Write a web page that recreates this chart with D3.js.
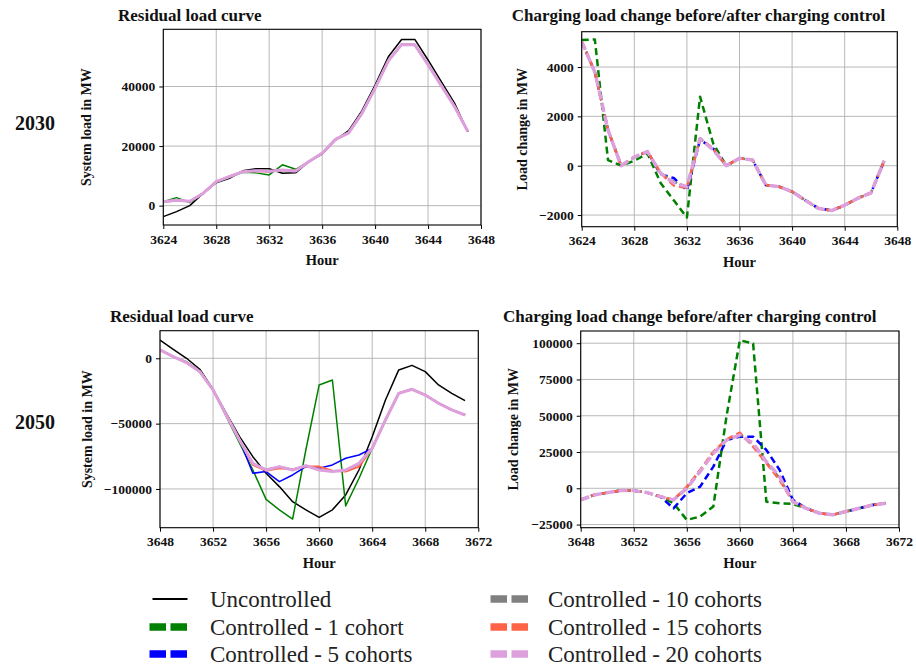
<!DOCTYPE html>
<html>
<head>
<meta charset="utf-8">
<script src="https://cdn.jsdelivr.net/npm/d3@7"></script>
<style>
  body { margin: 0; background: #fff; }
  svg text { font-family: "Liberation Serif", "Times New Roman", serif; }
</style>
</head>
<body>
<div id="container"></div>
<script>
/* DATA */
const hours2030 = [3624, 3625, 3626, 3627, 3628, 3629, 3630, 3631, 3632, 3633, 3634, 3635,
  3636, 3637, 3638, 3639, 3640, 3641, 3642, 3643, 3644, 3645, 3646, 3647];
const hours2050 = [3648, 3649, 3650, 3651, 3652, 3653, 3654, 3655, 3656, 3657, 3658, 3659,
  3660, 3661, 3662, 3663, 3664, 3665, 3666, 3667, 3668, 3669, 3670, 3671];

const xTicks2030 = [3624, 3628, 3632, 3636, 3640, 3644, 3648];
const xTicks2050 = [3648, 3652, 3656, 3660, 3664, 3668, 3672];
const yTicksRes2030 = [0, 20000, 40000];
const yTicksChg2030 = [-2000, 0, 2000, 4000];
const yTicksRes2050 = [-100000, -50000, 0];
const yTicksChg2050 = [-25000, 0, 25000, 50000, 75000, 100000];

const seriesNames = ["Uncontrolled", "Controlled - 1 cohort", "Controlled - 5 cohorts",
  "Controlled - 10 cohorts", "Controlled - 15 cohorts", "Controlled - 20 cohorts"];

// 2030 residual load (MW)
const resUnc2030 = [-3700, -2000, 0, 4100, 7700, 9200, 11700, 12400, 12400, 10900, 11000, 14800,
  17300, 22000, 25200, 31800, 40500, 50000, 55800, 55800, 48900, 41600, 34400, 24800];
const resC1_2030 = [1300, 2700, 1000, 4100, 7800, 9500, 11200, 11000, 10300, 13700, 12200, 14800,
  17600, 22200, 24400, 30900, 39400, 48600, 54100, 54000, 47300, 40300, 33300, 24900];
const resC5_2030 = [1330, 1800, 1450, 4100, 8050, 9770, 11350, 11900, 11400, 11950, 11700, 14800,
  17600, 22200, 24400, 30900, 39400, 48600, 54100, 54000, 47300, 40300, 33300, 24900];
const resC10_2030 = [1330, 1800, 1450, 4100, 8050, 9770, 11400, 11750, 11500, 12000, 11650, 14800,
  17600, 22200, 24400, 30900, 39400, 48600, 54100, 54000, 47300, 40300, 33300, 24900];
const resC15_2030 = [1330, 1800, 1450, 4100, 8050, 9770, 11400, 11600, 11500, 12000, 11700, 14800,
  17600, 22200, 24400, 30900, 39400, 48600, 54100, 54000, 47300, 40300, 33300, 24900];
const resC20_2030 = [1330, 1800, 1450, 4100, 8050, 9770, 11400, 11700, 11550, 12000, 11650, 14800,
  17600, 22230, 24420, 30950, 39450, 48600, 54070, 53980, 47300, 40280, 33300, 24990];

// 2030 charging load change (MW)
const chgC1_2030 = [5095, 5120, 230, 0, 200, 500, -700, -1400, -2100, 2800, 900, 0,
  300, 230, -780, -850, -1050, -1400, -1730, -1820, -1600, -1320, -1100, 190];
const chgC5_2030 = [5030, 3800, 1450, 0, 350, 570, -350, -500, -1000, 1050, 700, 0,
  300, 230, -780, -850, -1050, -1400, -1730, -1820, -1600, -1320, -1100, 190];
const chgC10_2030 = [5030, 3800, 1450, 0, 350, 570, -300, -650, -900, 1100, 650, 0,
  300, 230, -780, -850, -1050, -1400, -1730, -1820, -1600, -1320, -1100, 190];
const chgC15_2030 = [5030, 3800, 1450, 0, 350, 570, -300, -800, -900, 1100, 700, 0,
  300, 230, -780, -850, -1050, -1400, -1730, -1820, -1600, -1320, -1100, 190];
const chgC20_2030 = [5030, 3800, 1450, 0, 350, 570, -300, -700, -850, 1100, 650, 0,
  300, 230, -780, -850, -1050, -1400, -1730, -1820, -1600, -1320, -1100, 190];

// 2050 residual load (MW)
const resUnc2050 = [14000, 6900, 0, -8400, -23700, -42100, -60000, -75300, -88000, -98200, -109700, -116000,
  -121700, -116000, -104600, -85500, -60000, -31900, -8900, -5400, -10200, -20400, -26800, -32400];
const resC1_2050 = [6400, 1300, -2600, -9700, -23700, -44600, -65000, -85500, -108000, -116000, -123000, -70000,
  -20400, -16600, -113000, -92000, -68900, -47200, -26800, -23700, -28100, -34400, -39500, -43400];
const resC5_2050 = [6400, 1300, -3300, -10200, -24200, -43400, -62500, -88000, -86700, -94400, -89300, -82900,
  -84200, -81600, -76500, -74000, -68900, -47200, -26800, -23700, -28100, -34400, -39500, -43400];
const resC10_2050 = [6400, 1300, -3300, -10200, -24200, -43400, -62500, -81000, -85000, -83500, -85000, -82500,
  -85000, -86500, -86000, -81000, -68900, -47200, -26800, -23700, -28100, -34400, -39500, -43400];
const resC15_2050 = [6400, 1300, -3300, -10200, -24200, -43400, -62500, -81600, -86000, -84200, -85000, -82900,
  -82900, -86000, -86700, -82900, -68900, -47200, -26800, -23700, -28100, -34400, -39500, -43400];
const resC20_2050 = [6400, 1300, -3300, -10200, -24200, -43400, -62500, -80400, -85500, -82900, -85500, -82100,
  -85500, -86700, -85500, -80400, -68900, -47200, -26800, -23700, -28100, -34400, -39500, -43400];

// 2050 charging load change (MW)
const chgC1_2050 = [-8000, -4600, -3000, -1600, -1600, -3000, -5700, -10300, -21800, -19500, -12600, 50000,
  102000, 99800, -9200, -10300, -10800, -13800, -17200, -18300, -16000, -13800, -11500, -10300];
const chgC5_2050 = [-8000, -4600, -3000, -1600, -1600, -3000, -5700, -13800, -3400, 1100, 14900, 33300,
  35600, 35600, 26400, 12600, -8000, -13800, -17200, -18300, -16000, -13800, -11500, -10300];
const chgC10_2050 = [-8000, -4600, -3000, -1600, -1600, -3000, -5700, -8000, 500, 12000, 24500, 33500,
  37500, 30000, 17800, 7000, -9200, -13800, -17200, -18300, -16000, -13800, -11500, -10300];
const chgC15_2050 = [-8000, -4600, -3000, -1600, -1600, -3000, -5700, -8000, 1100, 12600, 25200, 33700,
  38300, 28700, 17200, 5700, -9200, -13800, -17200, -18300, -16000, -13800, -11500, -10300];
const chgC20_2050 = [-8000, -4600, -3000, -1600, -1600, -3000, -5700, -8000, 0, 11500, 24100, 33300,
  36700, 31000, 18300, 8000, -9200, -13800, -17200, -18300, -16000, -13800, -11500, -10300];

/* STYLES */
const colors = ["black", "green", "blue", "grey", "tomato", "plum"];
const solidWidths = [1.5, 1.5, 1.5, 2, 2, 3];
const dashWidths = [1.5, 2.5, 2.5, 2.5, 2.5, 3.5];
const dashPatterns = [null, "7,4", "7,4", "7,4", "7,4", "9,4"];

const width = 916, height = 667;

const svg = d3.select("#container")
  .append("svg")
  .attr("width", width)
  .attr("height", height)
  .style("background-color", "white");

/* PANELS */
const panels = [
  { title: "Residual load curve", ylabel: "System load in MW", hours: hours2030,
    series: [resUnc2030, resC1_2030, resC5_2030, resC10_2030, resC15_2030, resC20_2030], dashed: false,
    xTicks: xTicks2030, yTicks: yTicksRes2030, yDomain: [-6500, 59200],
    l: 163.3, r: 481, t: 29.3, b: 225, titleX: 118, titleY: 21, ylabX: 86 },
  { title: "Charging load change before/after charging control", ylabel: "Load change in MW", hours: hours2030,
    series: [null, chgC1_2030, chgC5_2030, chgC10_2030, chgC15_2030, chgC20_2030], dashed: true,
    xTicks: xTicks2030, yTicks: yTicksChg2030, yDomain: [-2473, 5433],
    l: 581.7, r: 897.3, t: 31.7, b: 226.7, titleX: 511.7, titleY: 21, ylabX: 521.7 },
  { title: "Residual load curve", ylabel: "System load in MW", hours: hours2050,
    series: [resUnc2050, resC1_2050, resC5_2050, resC10_2050, resC15_2050, resC20_2050], dashed: false,
    xTicks: xTicks2050, yTicks: yTicksRes2050, yDomain: [-129650, 21120],
    l: 160, r: 478.3, t: 330.7, b: 527.7, titleX: 110, titleY: 321.7, ylabX: 87.3 },
  { title: "Charging load change before/after charging control", ylabel: "Load change in MW", hours: hours2050,
    series: [null, chgC1_2050, chgC5_2050, chgC10_2050, chgC15_2050, chgC20_2050], dashed: true,
    xTicks: xTicks2050, yTicks: yTicksChg2050, yDomain: [-27160, 108400],
    l: 580.7, r: 899, t: 331, b: 527.7, titleX: 503, titleY: 321.7, ylabX: 512.7 }
];

panels.forEach((p, i) => {
  const xScale = d3.scaleLinear()
    .domain(d3.extent(p.xTicks))
    .range([p.l, p.r]);

  const yScale = d3.scaleLinear()
    .domain(p.yDomain)
    .range([p.b, p.t]);

  const g = svg.append("g").attr("class", "panel");

  // grid
  g.append("g")
    .selectAll("line.vgrid")
    .data(p.xTicks)
    .join("line")
    .attr("x1", d => xScale(d)).attr("x2", d => xScale(d))
    .attr("y1", p.t).attr("y2", p.b)
    .attr("stroke", "#b0b0b0").attr("stroke-width", 0.9);

  g.append("g")
    .selectAll("line.hgrid")
    .data(p.yTicks)
    .join("line")
    .attr("x1", p.l).attr("x2", p.r)
    .attr("y1", d => yScale(d)).attr("y2", d => yScale(d))
    .attr("stroke", "#b0b0b0").attr("stroke-width", 0.9);

  // lines
  g.append("clipPath").attr("id", "clip" + i)
    .append("rect")
    .attr("x", p.l).attr("y", p.t)
    .attr("width", p.r - p.l).attr("height", p.b - p.t);

  const line = d3.line()
    .x((d, j) => xScale(p.hours[j]))
    .y(d => yScale(d));

  p.series.forEach((vals, k) => {
    if (!vals) return;
    g.append("path")
      .datum(vals)
      .attr("clip-path", `url(#clip${i})`)
      .attr("d", line)
      .attr("fill", "none")
      .attr("stroke", colors[k])
      .attr("stroke-width", p.dashed ? dashWidths[k] : solidWidths[k])
      .attr("stroke-dasharray", p.dashed ? dashPatterns[k] : null)
      .attr("stroke-linejoin", "round");
  });

  // frame
  g.append("rect")
    .attr("x", p.l).attr("y", p.t)
    .attr("width", p.r - p.l).attr("height", p.b - p.t)
    .attr("fill", "none").attr("stroke", "black").attr("stroke-width", 1.1);

  // axes
  const xAxis = g.append("g")
    .attr("class", "x-axis")
    .attr("transform", `translate(0,${p.b})`)
    .call(d3.axisBottom(xScale).tickValues(p.xTicks).tickFormat(d3.format("d"))
      .tickSize(4).tickPadding(5).tickSizeOuter(0));

  const yAxis = g.append("g")
    .attr("class", "y-axis")
    .attr("transform", `translate(${p.l},0)`)
    .call(d3.axisLeft(yScale).tickValues(p.yTicks).tickFormat(d3.format("d"))
      .tickSize(4).tickPadding(4).tickSizeOuter(0));

  [xAxis, yAxis].forEach(a => {
    a.select(".domain").remove();
    a.selectAll("text")
      .style("font-family", "'Liberation Serif', serif")
      .style("font-size", "13.5px")
      .style("font-weight", "bold")
      .attr("fill", "#111");
  });

  // title
  g.append("text")
    .attr("x", p.titleX).attr("y", p.titleY)
    .style("font-size", "17px").style("font-weight", "bold")
    .attr("fill", "#111")
    .text(p.title);

  // x label
  g.append("text")
    .attr("x", (p.l + p.r) / 2).attr("y", p.b + 40)
    .attr("text-anchor", "middle")
    .style("font-size", "14.5px").style("font-weight", "bold")
    .attr("fill", "#111")
    .text("Hour");

  // y label
  g.append("text")
    .attr("transform", `translate(${p.ylabX},${(p.t + p.b) / 2}) rotate(-90)`)
    .attr("dy", "0.35em")
    .attr("text-anchor", "middle")
    .style("font-size", "14px").style("font-weight", "bold")
    .attr("fill", "#111")
    .text(p.ylabel);
});

/* ROW LABELS */
const rowLabels = ["2030", "2050"];
svg.selectAll(".row-label")
  .data(rowLabels)
  .join("text")
  .attr("class", "row-label")
  .attr("x", 15)
  .attr("y", (d, i) => [130, 429][i])
  .style("font-size", "20px").style("font-weight", "bold")
  .attr("fill", "#111")
  .text(d => d);

/* LEGEND */
const legend = svg.append("g").attr("class", "legend");
const legendItems = legend.selectAll("g")
  .data(seriesNames)
  .join("g")
  .attr("transform", (d, i) => `translate(${i < 3 ? 149.5 : 490.5},${[599, 627, 654][i % 3]})`);

legendItems.append("line")
  .attr("x1", (d, i) => i === 0 ? 3 : 0)
  .attr("x2", (d, i) => i === 0 ? 38 : 40.5)
  .attr("y1", 0).attr("y2", 0)
  .attr("stroke", (d, i) => colors[i])
  .attr("stroke-width", (d, i) => i === 0 ? 2 : 7.5)
  .attr("stroke-dasharray", (d, i) => i === 0 ? null : "16.5,4.5");

legendItems.append("text")
  .attr("x", (d, i) => i < 3 ? 60.5 : 57.5)
  .attr("y", 0)
  .attr("dy", "0.33em")
  .style("font-size", "23px")
  .attr("fill", "#222")
  .text(d => d);
</script>
</body>
</html>
